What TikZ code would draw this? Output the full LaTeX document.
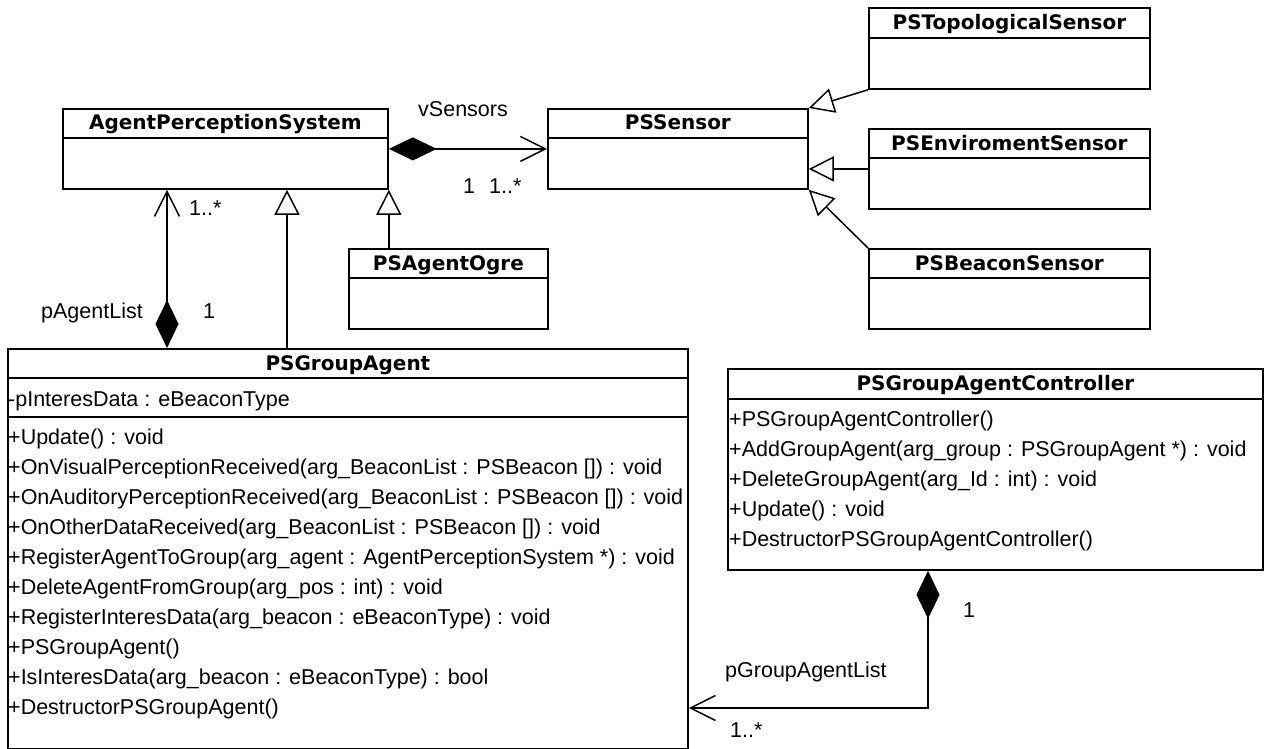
\documentclass[tikz,border=0pt]{standalone}
\usepackage{fontspec}
\setmainfont{Liberation Sans}
\newfontfamily\titlefont{DejaVu Sans}
\usetikzlibrary{arrows.meta}
\begin{document}
\begin{tikzpicture}[x=1pt,y=-1pt,
  classbox/.style={draw, line width=1.8pt, rectangle, inner sep=0pt, anchor=north west},
  divider/.style={line width=1.8pt},
  ctitle/.style={font=\titlefont\bfseries\fontsize{20pt}{22pt}\selectfont, inner sep=0pt, anchor=base},
  member/.style={font=\fontsize{21.5pt}{24pt}\selectfont, inner sep=0pt, anchor=base west},
  lbl/.style={font=\fontsize{21.5pt}{24pt}\selectfont, inner sep=0pt, anchor=base west},
  link/.style={line width=1.5pt},
  gen/.style={link, -{Triangle[open, length=25pt, width=25pt, fill=white, line width=1.5pt]}},
  comp/.style={link, {Diamond[length=48pt, width=23pt]}-{Straight Barb[length=25pt, width=25pt, line width=1.5pt]}},
]
\useasboundingbox[fill=white] (0,0) rectangle (1268,749);

% ---- class boxes ----
\node[classbox, minimum width=325pt, minimum height=80pt] (aps) at (62,108) {};
\draw[divider] ([yshift=-30pt]aps.north west) -- ([yshift=-30pt]aps.north east);
\node[ctitle] (apsT) at ([yshift=-22pt]aps.north) {AgentPerceptionSystem};

\node[classbox, minimum width=260pt, minimum height=80pt] (pss) at (547,108) {};
\draw[divider] ([yshift=-30pt]pss.north west) -- ([yshift=-30pt]pss.north east);
\node[ctitle] (pssT) at ([yshift=-22pt]pss.north) {PSSensor};

\node[classbox, minimum width=281pt, minimum height=81pt] (topo) at (868,7) {};
\draw[divider] ([yshift=-31pt]topo.north west) -- ([yshift=-31pt]topo.north east);
\node[ctitle] (topoT) at ([yshift=-22.5pt]topo.north) {PSTopologicalSensor};

\node[classbox, minimum width=281pt, minimum height=80pt] (env) at (868,128) {};
\draw[divider] ([yshift=-30pt]env.north west) -- ([yshift=-30pt]env.north east);
\node[ctitle] (envT) at ([yshift=-22pt]env.north) {PSEnviromentSensor};

\node[classbox, minimum width=281pt, minimum height=80pt] (beac) at (868,248) {};
\draw[divider] ([yshift=-30pt]beac.north west) -- ([yshift=-30pt]beac.north east);
\node[ctitle] (beacT) at ([yshift=-22pt]beac.north) {PSBeaconSensor};

\node[classbox, minimum width=199pt, minimum height=80pt] (ogre) at (348,248) {};
\draw[divider] ([yshift=-30pt]ogre.north west) -- ([yshift=-30pt]ogre.north east);
\node[ctitle] (ogreT) at ([yshift=-22pt]ogre.north) {PSAgentOgre};

% PSGroupAgent
\node[classbox, minimum width=680pt, minimum height=400pt] (ga) at (7,348) {};
\draw[divider] ([yshift=-30pt]ga.north west) -- ([yshift=-30pt]ga.north east);
\draw[divider] ([yshift=-69pt]ga.north west) -- ([yshift=-69pt]ga.north east);
\node[ctitle] (gaT) at ([yshift=-22pt]ga.north) {PSGroupAgent};
\node[member] (ga0) at (8,406) {-pInteresData : eBeaconType};
\node[member] (ga1) at (8,444) {+Update() : void};
\node[member] (ga2) at (8,474) {+OnVisualPerceptionReceived(arg\_BeaconList : PSBeacon []) : void};
\node[member] (ga3) at (8,504) {+OnAuditoryPerceptionReceived(arg\_BeaconList : PSBeacon []) : void};
\node[member] (ga4) at (8,534) {+OnOtherDataReceived(arg\_BeaconList : PSBeacon []) : void};
\node[member] (ga5) at (8,564) {+RegisterAgentToGroup(arg\_agent : AgentPerceptionSystem *) : void};
\node[member] (ga6) at (8,594) {+DeleteAgentFromGroup(arg\_pos : int) : void};
\node[member] (ga7) at (8,624) {+RegisterInteresData(arg\_beacon : eBeaconType) : void};
\node[member] (ga8) at (8,654) {+PSGroupAgent()};
\node[member] (ga9) at (8,684) {+IsInteresData(arg\_beacon : eBeaconType) : bool};
\node[member] (ga10) at (8,714) {+DestructorPSGroupAgent()};

% PSGroupAgentController
\node[classbox, minimum width=535pt, minimum height=201pt] (ctrl) at (727,368) {};
\draw[divider] ([yshift=-31pt]ctrl.north west) -- ([yshift=-31pt]ctrl.north east);
\node[ctitle] (ctrlT) at ([yshift=-22.5pt]ctrl.north) {PSGroupAgentController};
\node[member] (c1) at (729,426) {+PSGroupAgentController()};
\node[member] (c2) at (729,456) {+AddGroupAgent(arg\_group : PSGroupAgent *) : void};
\node[member] (c3) at (729,486) {+DeleteGroupAgent(arg\_Id : int) : void};
\node[member] (c4) at (729,516) {+Update() : void};
\node[member] (c5) at (729,546) {+DestructorPSGroupAgentController()};

% ---- relationships ----
\draw[comp] (aps.east) -- (pss.west);
\draw[gen] (topo.south west) -- (pss.north east);
\draw[gen] (env.west) -- (env.west -| pss.east);
\draw[gen] (beac.north west) -- (pss.south east);
\draw[gen] (ogre.north -| aps.south east) -- (aps.south east);
\draw[gen] ([xshift=280pt]ga.north west) -- ([xshift=280pt]ga.north west |- aps.south);
\draw[comp] ([xshift=160pt]ga.north west) -- ([xshift=160pt]ga.north west |- aps.south);
\coordinate (bend) at (928,708);
\draw[comp] (ctrl.south -| bend) -- (bend) -- (bend -| ga.east);

% ---- role names and multiplicities ----
\node[lbl] (lvs) at (418,117) {vSensors};
\node[lbl] (lvs1) at (463,193) {1};
\node[lbl] (lvs2) at (489,193) {1..*};
\node[lbl] (lpa2) at (189,215) {1..*};
\node[lbl] (lpa) at (41,318) {pAgentList};
\node[lbl] (lpa1) at (203,318) {1};
\node[lbl] (lpg) at (725,677) {pGroupAgentList};
\node[lbl] (lpg2) at (730,737) {1..*};
\node[lbl] (lpg1) at (963,617) {1};
\end{tikzpicture}
\end{document}
